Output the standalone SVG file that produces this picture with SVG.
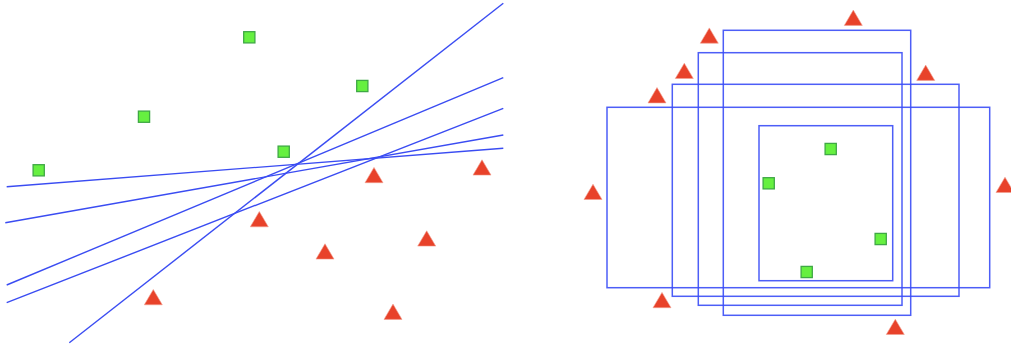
<svg xmlns="http://www.w3.org/2000/svg" width="1011" height="347" viewBox="0 0 1011 347">
<defs>
<style>
.ln{stroke:#3a4cf2;stroke-width:1.4;fill:none}
.rc{stroke:#3a4cf6;stroke-width:1.5;fill:none;stroke-opacity:0.9}
.sq{fill:#66f040;stroke:#3fa845;stroke-width:1.3}
.tr{fill:#e8422a;stroke:#f2a090;stroke-width:0.6}
</style>
<rect id="s" x="-5.6" y="-5.6" width="11.2" height="11.2" class="sq"/>
<path id="t" d="M0,-7.8 L9,7.5 L-9,7.5 Z" class="tr"/>
</defs>
<rect width="1011" height="347" fill="#ffffff"/>
<g id="connectors">
<line class="ln" x1="503.3" y1="3.3" x2="69.3" y2="342.7"/>
<line class="ln" x1="503.3" y1="77.7" x2="6.7" y2="285"/>
<line class="ln" x1="503.3" y1="108.3" x2="6.7" y2="302.7"/>
<line class="ln" x1="503.3" y1="135" x2="5.3" y2="222.7"/>
<line class="ln" x1="503.3" y1="148.3" x2="6.7" y2="186.7"/>
<rect class="rc" x="759" y="125.7" width="133.7" height="155"/>
<rect class="rc" x="607" y="107.3" width="382.7" height="180.4"/>
<rect class="rc" x="672.3" y="84.3" width="286.7" height="212"/>
<rect class="rc" x="698.3" y="52.7" width="203.7" height="252.6"/>
<rect class="rc" x="723.3" y="30.3" width="187.4" height="285"/>
</g>
<g id="left-squares">
<use href="#s" x="249.3" y="37.3"/>
<use href="#s" x="362.3" y="86"/>
<use href="#s" x="144" y="116.7"/>
<use href="#s" x="283.7" y="151.7"/>
<use href="#s" x="38.7" y="170.3"/>
</g>
<g id="left-triangles">
<use href="#t" x="374" y="175.2"/>
<use href="#t" x="482" y="167.6"/>
<use href="#t" x="259.3" y="219.3"/>
<use href="#t" x="325" y="251.6"/>
<use href="#t" x="426.7" y="238.6"/>
<use href="#t" x="153.3" y="297.3"/>
<use href="#t" x="393" y="311.9"/>
</g>
<g id="right-squares">
<use href="#s" x="830.7" y="149"/>
<use href="#s" x="768.7" y="183.3"/>
<use href="#s" x="880.7" y="239"/>
<use href="#s" x="806.7" y="272"/>
</g>
<g id="right-triangles">
<use href="#t" x="853.3" y="17.9"/>
<use href="#t" x="709.3" y="35.7"/>
<use href="#t" x="684.3" y="71"/>
<use href="#t" x="657" y="95.4"/>
<use href="#t" x="925.7" y="72.9"/>
<use href="#t" x="593" y="192"/>
<use href="#t" x="1005" y="185"/>
<use href="#t" x="662" y="300.2"/>
<use href="#t" x="895.3" y="327"/>
</g>
</svg>
